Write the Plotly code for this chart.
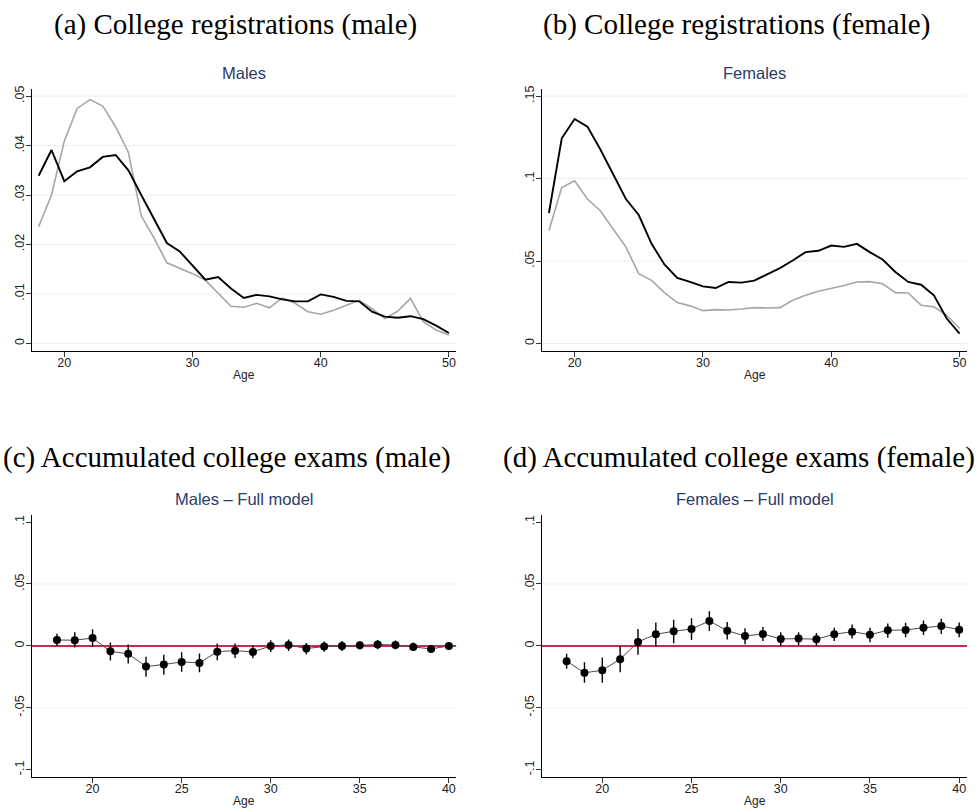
import plotly.graph_objects as go

# ---- data -----------------------------------------------------------------
age_reg = list(range(18, 51))

reg_male_dark = [0.0339, 0.0391, 0.0328, 0.0348, 0.0356, 0.0377, 0.0381, 0.0350,
                 0.0300, 0.0252, 0.0203, 0.0186, 0.0158, 0.0129, 0.0134, 0.0111,
                 0.0092, 0.0098, 0.0095, 0.0089, 0.0085, 0.0085, 0.0099, 0.0094,
                 0.0086, 0.0085, 0.0064, 0.0054, 0.0052, 0.0055, 0.0049, 0.0036,
                 0.0021]
reg_male_light = [0.0236, 0.0300, 0.0409, 0.0475, 0.0493, 0.0480, 0.0438, 0.0386,
                  0.0258, 0.0213, 0.0163, 0.0152, 0.0141, 0.0128, 0.0101, 0.0075,
                  0.0073, 0.0081, 0.0072, 0.0092, 0.0081, 0.0064, 0.0059, 0.0067,
                  0.0077, 0.0087, 0.0070, 0.0050, 0.0065, 0.0091, 0.0044, 0.0027,
                  0.0017]
reg_female_dark = [0.0791, 0.1244, 0.1361, 0.1315, 0.1178, 0.1027, 0.0876, 0.0779,
                   0.0604, 0.0479, 0.0397, 0.0373, 0.0346, 0.0336, 0.0373, 0.0369,
                   0.0381, 0.0419, 0.0457, 0.0503, 0.0554, 0.0562, 0.0594, 0.0586,
                   0.0604, 0.0554, 0.0509, 0.0433, 0.0373, 0.0356, 0.0292, 0.0151,
                   0.0060]
reg_female_light = [0.0685, 0.0946, 0.0987, 0.0876, 0.0805, 0.0695, 0.0584, 0.0423,
                    0.0383, 0.0308, 0.0248, 0.0228, 0.0199, 0.0205, 0.0203, 0.0209,
                    0.0217, 0.0215, 0.0217, 0.0262, 0.0292, 0.0316, 0.0332, 0.0352,
                    0.0373, 0.0375, 0.0362, 0.0308, 0.0306, 0.0232, 0.0222, 0.0171,
                    0.0091]

age_exam = list(range(18, 41))

exam_male_coef = [0.0048, 0.0046, 0.0064, -0.0043, -0.0064, -0.0166, -0.0150, -0.0129,
                  -0.0137, -0.0046, -0.0038, -0.0048, 0.0000, 0.0008, -0.0021, -0.0005,
                  0.0000, 0.0005, 0.0011, 0.0008, -0.0008, -0.0024, 0.0000]
exam_male_hi = [0.0099, 0.0110, 0.0134, 0.0027, 0.0011, -0.0088, -0.0072, -0.0051,
                -0.0062, 0.0019, 0.0019, 0.0005, 0.0046, 0.0051, 0.0024, 0.0035,
                0.0040, 0.0035, 0.0048, 0.0043, 0.0027, 0.0008, 0.0019]
exam_male_lo = [0.0000, -0.0013, -0.0005, -0.0118, -0.0142, -0.0249, -0.0233, -0.0209,
                -0.0212, -0.0115, -0.0097, -0.0099, -0.0048, -0.0040, -0.0067, -0.0046,
                -0.0040, -0.0029, -0.0027, -0.0027, -0.0040, -0.0051, -0.0019]

exam_female_coef = [-0.0123, -0.0217, -0.0196, -0.0107, 0.0032, 0.0094, 0.0118, 0.0137,
                    0.0201, 0.0123, 0.0080, 0.0097, 0.0056, 0.0059, 0.0054, 0.0094,
                    0.0115, 0.0091, 0.0126, 0.0129, 0.0147, 0.0161, 0.0131]
exam_female_hi = [-0.0064, -0.0131, -0.0094, 0.0000, 0.0137, 0.0190, 0.0212, 0.0223,
                  0.0279, 0.0193, 0.0142, 0.0153, 0.0110, 0.0110, 0.0105, 0.0147,
                  0.0172, 0.0147, 0.0182, 0.0188, 0.0206, 0.0220, 0.0190]
exam_female_lo = [-0.0185, -0.0298, -0.0298, -0.0212, -0.0072, -0.0005, 0.0021, 0.0048,
                  0.0121, 0.0051, 0.0013, 0.0040, 0.0000, 0.0005, 0.0000, 0.0040,
                  0.0059, 0.0029, 0.0067, 0.0070, 0.0088, 0.0097, 0.0070]

reg_x_ticks = [20, 30, 40, 50]
exam_x_ticks = [20, 25, 30, 35, 40]
male_reg_y_ticks = [0, 0.01, 0.02, 0.03, 0.04, 0.05]
male_reg_y_text = ["0", ".01", ".02", ".03", ".04", ".05"]
female_reg_y_ticks = [0, 0.05, 0.1, 0.15]
female_reg_y_text = ["0", ".05", ".1", ".15"]
exam_y_ticks = [-0.1, -0.05, 0, 0.05, 0.1]
exam_y_text = ["-.1", "-.05", "0", ".05", ".1"]

panel_titles = ["Males", "Females", "Males \u2013 Full model", "Females \u2013 Full model"]
panel_headings = ["(a) College registrations (male)",
                  "(b) College registrations (female)",
                  "(c) Accumulated college exams (male)",
                  "(d) Accumulated college exams (female)"]

# ---- style ----------------------------------------------------------------
W, H = 979, 812
SANS = "Liberation Sans, Arial, sans-serif"
SERIF = "Liberation Serif, Times New Roman, serif"
TITLE_COLOR = "#2b3a67"
GRID_COLOR = "#e8f0f0"
ZERO_COLOR = "#c92a52"

# plot regions in pixels: (left, right, top, bottom)
regions = [(32, 456, 86, 349), (542, 967, 86, 349),
           (32, 456, 514, 777), (542, 967, 514, 777)]


def xdom(r):
    return [r[0] / W, r[1] / W]


def ydom(r):
    return [1 - r[3] / H, 1 - r[2] / H]


fig = go.Figure()

# panel a / b lines
fig.add_trace(go.Scatter(x=age_reg, y=reg_male_light, mode="lines",
                         line=dict(color="#a6a6a6", width=1.6), xaxis="x", yaxis="y"))
fig.add_trace(go.Scatter(x=age_reg, y=reg_male_dark, mode="lines",
                         line=dict(color="#000000", width=1.9), xaxis="x", yaxis="y"))
fig.add_trace(go.Scatter(x=age_reg, y=reg_female_light, mode="lines",
                         line=dict(color="#a6a6a6", width=1.6), xaxis="x2", yaxis="y2"))
fig.add_trace(go.Scatter(x=age_reg, y=reg_female_dark, mode="lines",
                         line=dict(color="#000000", width=1.9), xaxis="x2", yaxis="y2"))


def coef_trace(coef, lo, hi, xa, ya):
    return go.Scatter(
        x=age_exam, y=coef, mode="lines+markers",
        line=dict(color="#4a4a4a", width=1),
        marker=dict(color="#000000", size=8),
        error_y=dict(type="data", symmetric=False,
                     array=[h - c for h, c in zip(hi, coef)],
                     arrayminus=[c - l for c, l in zip(coef, lo)],
                     color="#000000", thickness=1.4, width=0),
        xaxis=xa, yaxis=ya)


fig.add_trace(coef_trace(exam_male_coef, exam_male_lo, exam_male_hi, "x3", "y3"))
fig.add_trace(coef_trace(exam_female_coef, exam_female_lo, exam_female_hi, "x4", "y4"))

axis_common = dict(showgrid=False, zeroline=False, showline=True, linecolor="#000000",
                   linewidth=1.2, ticks="outside", ticklen=5, tickwidth=1,
                   tickcolor="#333333", tickfont=dict(family=SANS, size=12.5, color="#222222"))

x_specs = [(reg_x_ticks, [17.48, 50.55]), (reg_x_ticks, [17.46, 50.58]),
           (exam_x_ticks, [16.6, 40.4]), (exam_x_ticks, [16.62, 40.44])]
y_specs = [(male_reg_y_ticks, male_reg_y_text, [-0.00148, 0.0515]),
           (female_reg_y_ticks, female_reg_y_text, [-0.0044, 0.1545]),
           (exam_y_ticks, exam_y_text, [-0.1059, 0.1056]),
           (exam_y_ticks, exam_y_text, [-0.1059, 0.1056])]

shapes = []
annotations = []
for i in range(4):
    sfx = "" if i == 0 else str(i + 1)
    r = regions[i]
    xt, xr = x_specs[i]
    yt, ytxt, yr = y_specs[i]
    fig.layout["xaxis" + sfx] = dict(axis_common, domain=xdom(r), range=xr,
                                     tickvals=xt, anchor="y" + sfx,
                                     ticklabelstandoff=-5)
    fig.layout["yaxis" + sfx] = dict(axis_common, domain=ydom(r), range=yr,
                                     tickvals=yt, ticktext=ytxt, tickangle=-90,
                                     anchor="x" + sfx, ticklabelstandoff=-3)
    # light horizontal grid lines inside the plot region
    for v in yt:
        if i >= 2 and abs(v) > 0.09:
            continue
        shapes.append(dict(type="line", xref="x" + sfx + " domain", x0=0, x1=1,
                           yref="y" + sfx, y0=v, y1=v, layer="below",
                           line=dict(color=GRID_COLOR, width=1)))
    if i >= 2:
        shapes.append(dict(type="line", xref="x" + sfx + " domain", x0=0, x1=1,
                           yref="y" + sfx, y0=0, y1=0, layer="below",
                           line=dict(color=ZERO_COLOR, width=2)))
    cx = (r[0] + r[1]) / 2 / W
    # panel title
    annotations.append(dict(text=panel_titles[i], xref="paper", yref="paper",
                            x=cx, y=1 - (r[2] - 16) / H, xanchor="center", yanchor="middle",
                            showarrow=False,
                            font=dict(family=SANS, size=16.5, color=TITLE_COLOR)))
    # x-axis title
    annotations.append(dict(text="Age", xref="paper", yref="paper",
                            x=cx, y=1 - (r[3] + 24) / H, xanchor="center", yanchor="middle",
                            showarrow=False,
                            font=dict(family=SANS, size=12, color="#222222")))

# sub-figure headings: (x, y, anchor)
heading_pos = [(235, 22, "center"), (736, 22, "center"),
               (227, 456, "center"), (977, 456, "right")]
for text, (hx, hy, anc) in zip(panel_headings, heading_pos):
    annotations.append(dict(text=text, xref="paper", yref="paper",
                            x=hx / W, y=1 - hy / H, xanchor=anc, yanchor="middle",
                            showarrow=False,
                            font=dict(family=SERIF, size=29, color="#000000")))

fig.update_layout(width=W, height=H, margin=dict(l=0, r=0, t=0, b=0),
                  paper_bgcolor="#ffffff", plot_bgcolor="#ffffff",
                  showlegend=False, shapes=shapes, annotations=annotations)

fig.write_html("out.html", config={"displayModeBar": False})
